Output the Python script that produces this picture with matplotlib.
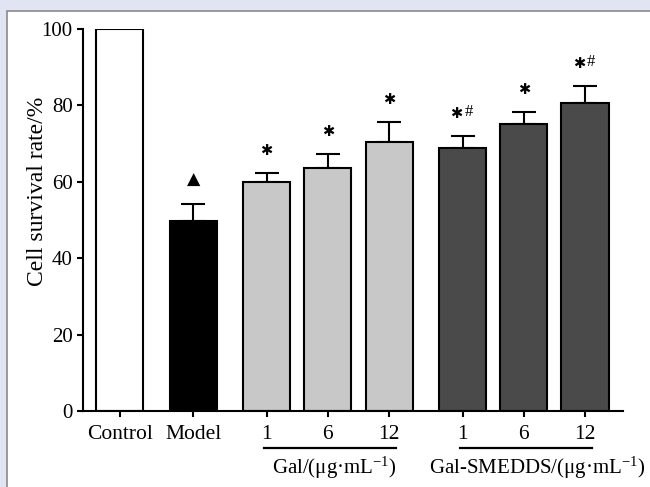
import matplotlib
matplotlib.use("Agg")
import matplotlib.pyplot as plt
from matplotlib.patches import Rectangle

plt.rcParams["font.family"] = ["Liberation Serif", "DejaVu Sans"]
plt.rcParams["mathtext.fontset"] = "custom"
plt.rcParams["mathtext.rm"] = "Liberation Serif"
plt.rcParams["mathtext.it"] = "Liberation Serif:italic"

# data
labels = ["Control", "Model", "1", "6", "12", "1", "6", "12"]
survival = [100, 49.8, 60.0, 63.6, 70.4, 68.9, 75.1, 80.7]
sd = [0, 4.4, 2.3, 3.7, 5.3, 3.2, 3.2, 4.5]
marks = ["", "tri", "*", "*", "*", "*#", "*", "*#"]
colors = ["white", "black", "#c8c8c8", "#c8c8c8", "#c8c8c8", "#4a4a4a", "#4a4a4a", "#4a4a4a"]
xpos = [0, 1.2, 2.4, 3.4, 4.4, 5.6, 6.6, 7.6]
groups = [("Gal/(μg·mL$^{-1}$)", 2, 4), ("Gal-SMEDDS/(μg·mL$^{-1}$)", 5, 7)]

fig = plt.figure(figsize=(6.5, 4.87), dpi=100, facecolor="#e1e4f2")
fig.patches.append(Rectangle((7 / 650, -0.1), 1.2, 1.1 - 11 / 487, transform=fig.transFigure,
                             facecolor="white", edgecolor="#8a8a8a", linewidth=1.2, zorder=-10))

ax = fig.add_axes([83 / 650, 1 - 411 / 487, 540 / 650, 382 / 487])
ax.set_facecolor("none")

ax.bar(xpos, survival, width=0.77, color=colors, edgecolor="black", linewidth=1.5, zorder=2)
ax.errorbar(xpos, survival, yerr=[[0] * len(sd), sd], fmt="none", ecolor="black",
            elinewidth=1.5, capsize=8.5, capthick=1.5, zorder=1)

for x, m, s, e in zip(xpos, marks, survival, sd):
    y = s + e + 5.8
    if m == "tri":
        ax.text(x, y + 0.5, "▲", family="DejaVu Sans", fontsize=12.5, ha="center", va="center")
    elif m == "*":
        ax.text(x, y, "✱", family="DejaVu Sans", fontsize=10.5, ha="center", va="center")
    elif m == "*#":
        ax.annotate("✱", (x, y), xytext=(-4.3, 0), textcoords="offset points",
                    family="DejaVu Sans", fontsize=10.5, ha="center", va="center")
        ax.annotate("#", (x, y), xytext=(4.3, 0.8), textcoords="offset points",
                    fontsize=12, ha="center", va="center")

ax.set_xlim(-0.6, 8.22)
ax.set_ylim(0, 100)
ax.set_xticks(xpos)
ax.set_xticklabels(labels)
ax.set_yticks(range(0, 101, 20))
ax.tick_params(axis="x", length=4, width=1.5, pad=6, labelsize=15.5)
ax.tick_params(axis="y", length=4.5, width=1.5, pad=3, labelsize=15)
for side in ["top", "right"]:
    ax.spines[side].set_visible(False)
for side in ["left", "bottom"]:
    ax.spines[side].set_linewidth(1.5)
ax.set_ylabel("Cell survival rate/%", fontsize=17)
ax.yaxis.set_label_coords(-0.065, 0.576)

trans = ax.get_xaxis_transform()
for name, i0, i1 in groups:
    x0 = xpos[i0] - 0.05
    x1 = xpos[i1] + 0.12
    ax.plot([x0, x1], [-0.097, -0.097], color="black", linewidth=1.6, transform=trans, clip_on=False)
ax.text((xpos[2] + xpos[4]) / 2 + 0.1, -0.15, groups[0][0], transform=trans,
        ha="center", va="center", fontsize=15)
ax.text((xpos[5] + xpos[7]) / 2 + 0.22, -0.15, groups[1][0], transform=trans,
        ha="center", va="center", fontsize=15)

fig.savefig("out.png", dpi=100, facecolor=fig.get_facecolor())
